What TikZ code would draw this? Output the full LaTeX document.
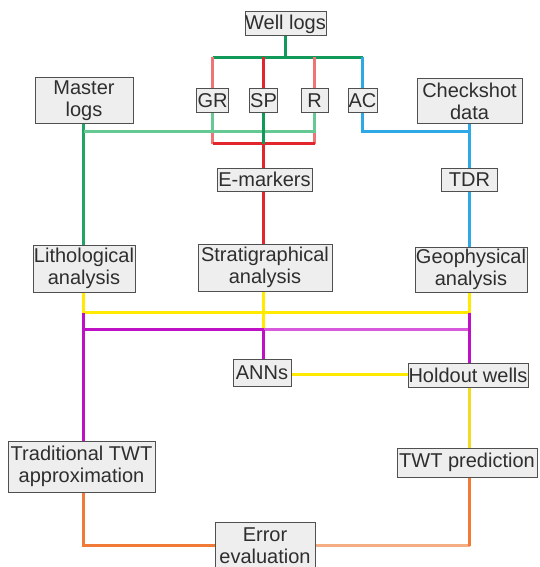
\documentclass[tikz,border=0pt]{standalone}
\usepackage{fontspec}
\setmainfont{Liberation Sans}
\definecolor{boxfill}{HTML}{EEEEEE}
\definecolor{boxline}{HTML}{505050}
\definecolor{txt}{HTML}{2E2E2E}
\definecolor{dkgreen}{HTML}{11995A}
\definecolor{mdgreen}{HTML}{22A464}
\definecolor{ltgreen}{HTML}{66C893}
\definecolor{cred}{HTML}{E3262E}
\definecolor{ltred}{HTML}{EE7476}
\definecolor{cblue}{HTML}{2FA8E6}
\definecolor{cyellow}{HTML}{FFEA00}
\definecolor{cpurple}{HTML}{BE10C4}
\definecolor{ltpurple}{HTML}{D85ADC}
\definecolor{corange}{HTML}{F07A36}
\definecolor{ltorange}{HTML}{F5AE84}
\definecolor{paleyellow}{HTML}{F0DC20}
\begin{document}
\begin{tikzpicture}[x=1pt,y=-1pt,
  box/.style={draw=boxline, fill=boxfill, line width=1pt, text=txt,
    font=\fontsize{20}{22}\selectfont, align=center, inner sep=0pt},
  wire/.style={line width=2.1pt}]
\useasboundingbox (0,0) rectangle (539,567);
% helper coordinates
\coordinate (wj) at (0,57.5);
\coordinate (gy) at (0,131.5);
\coordinate (ry) at (0,143.5);
\coordinate (yy) at (0,312.5);
\coordinate (py) at (0,329.5);
\coordinate (ay) at (0,374.5);
\coordinate (oy) at (0,545.5);
\coordinate (lx) at (83.5,0);
\coordinate (cx) at (263.5,0);
\coordinate (rx) at (469.5,0);
% nodes
\node[box, minimum width=81pt, minimum height=24pt] (well) at (285.5,24) {Well logs};
\node[box, minimum width=32pt, minimum height=24pt] (GR) at (212.5,101) {GR};
\node[box, minimum width=28pt, minimum height=24pt] (SP) at (263.5,101) {SP};
\node[box, minimum width=27pt, minimum height=24pt] (R) at (314.5,101) {R};
\node[box, minimum width=29pt, minimum height=24pt] (AC) at (362.5,101) {AC};
\node[box, minimum width=98pt, minimum height=46pt] (master) at (84,101) {Master\\logs};
\node[box, minimum width=105pt, minimum height=45pt] (check) at (469.5,101.5) {Checkshot\\data};
\node[box, minimum width=95pt, minimum height=23pt] (emark) at (264.5,179.5) {E-markers};
\node[box, minimum width=56pt, minimum height=23pt] (TDR) at (469.5,179.5) {TDR};
\node[box, minimum width=102pt, minimum height=47pt] (litho) at (84,268.5) {Lithological\\analysis};
\node[box, minimum width=134pt, minimum height=47pt] (strat) at (265,267.5) {Stratigraphical\\analysis};
\node[box, minimum width=112pt, minimum height=45pt] (geo) at (471,269.5) {Geophysical\\analysis};
\node[box, minimum width=58pt, minimum height=27pt] (anns) at (262,372.5) {ANNs};
\node[box, minimum width=120pt, minimum height=24pt] (holdout) at (468,375) {Holdout wells};
\node[box, minimum width=147pt, minimum height=51pt] (trad) at (81.5,466.5) {Traditional TWT\\approximation};
\node[box, minimum width=140pt, minimum height=29pt] (twtp) at (467,462.5) {TWT prediction};
\node[box, minimum width=100pt, minimum height=47pt] (err) at (265,545.5) {Error\\evaluation};
% top tree
\draw[wire, dkgreen] (well.south) -- (well.south |- wj);
\draw[wire, dkgreen] (GR.north |- wj) -- (AC.north |- wj);
\draw[wire, ltred] (GR.north |- wj) -- (GR.north);
\draw[wire, cred] (SP.north |- wj) -- (SP.north);
\draw[wire, ltred] (R.north |- wj) -- (R.north);
\draw[wire, cblue] (AC.north |- wj) -- (AC.north);
% red loop
\draw[wire, ltred] (GR.south |- gy) -- (GR.south |- ry);
\draw[wire, ltred] (R.south |- gy) -- (R.south |- ry);
\draw[wire, cred] (GR.south |- ry) -- (R.south |- ry);
\draw[wire, cred] (cx |- ry) -- (cx |- emark.north);
\draw[wire, cred] (cx |- emark.south) -- (cx |- strat.north);
% green loop
\draw[wire, mdgreen] (lx |- master.south) -- (lx |- litho.north);
\draw[wire, ltgreen] (lx |- gy) -- (R.south |- gy) -- (R.south);
\draw[wire, ltgreen] (GR.south) -- (GR.south |- gy);
\draw[wire, dkgreen] (SP.south) -- (SP.south |- ry);
% blue
\draw[wire, cblue] (AC.south) -- (AC.south |- gy) -- (rx |- gy);
\draw[wire, cblue] (rx |- check.south) -- (rx |- TDR.north);
\draw[wire, cblue] (rx |- TDR.south) -- (rx |- geo.north);
% yellow
\draw[wire, cyellow] (lx |- litho.south) -- (lx |- yy) -- (rx |- yy) -- (rx |- geo.south);
\draw[wire, cyellow] (cx |- strat.south) -- (cx |- py);
\draw[wire, cyellow] (anns.east |- ay) -- (holdout.west |- ay);
% purple
\draw[wire, cpurple] (lx |- yy) -- (lx |- trad.north);
\draw[wire, cpurple] (lx |- py) -- (cx |- py);
\draw[wire, ltpurple] (cx |- py) -- (rx |- py);
\draw[wire, cpurple] (cx |- py) -- (cx |- anns.north);
\draw[wire, cpurple] (rx |- yy) -- (rx |- holdout.north);
% pale yellow
\draw[wire, paleyellow] (rx |- holdout.south) -- (rx |- twtp.north);
% orange
\draw[wire, corange] (lx |- trad.south) -- (lx |- oy) -- (err.west |- oy);
\draw[wire, ltorange] (err.east |- oy) -- (rx |- oy);
\draw[wire, corange] (rx |- twtp.south) -- (rx |- oy);
\end{tikzpicture}
\end{document}
